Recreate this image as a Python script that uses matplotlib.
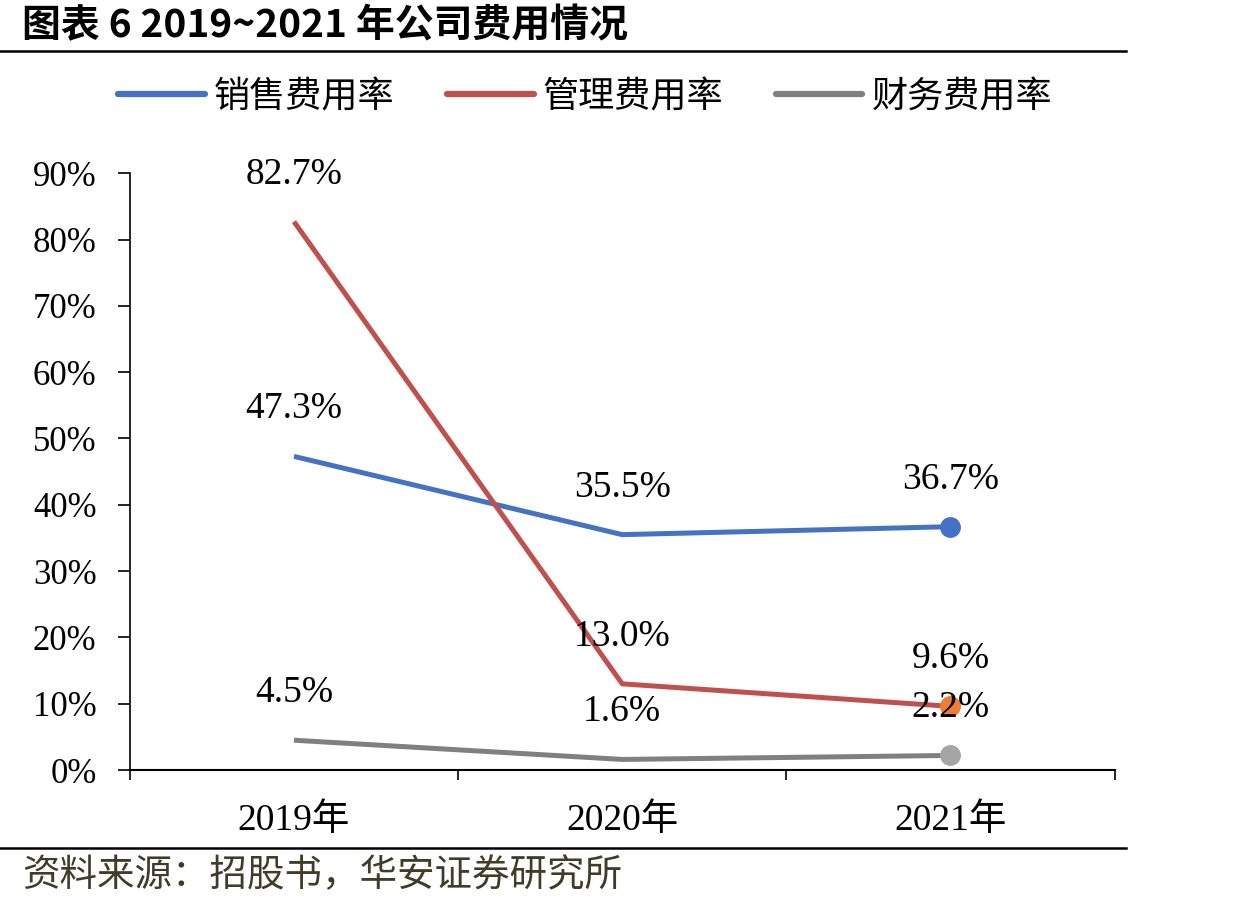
import matplotlib
matplotlib.use("Agg")
import matplotlib.pyplot as plt
from matplotlib.lines import Line2D

# Data
years = ["2019年", "2020年", "2021年"]
sales_rate = [47.3, 35.5, 36.7]
admin_rate = [82.7, 13.0, 9.6]
finance_rate = [4.5, 1.6, 2.2]
series_names = ["销售费用率", "管理费用率", "财务费用率"]
title = "图表 6 2019~2021 年公司费用情况"
source = "资料来源：招股书，华安证券研究所"

serif = ["Liberation Serif", "Noto Sans CJK SC"]
cjk = ["Noto Sans CJK SC", "DejaVu Sans"]

fig = plt.figure(figsize=(12.37, 9.07), dpi=100)
ax = fig.add_axes([0.105, 0.151, 0.796, 0.658])

x = list(range(len(years)))
series = [
    (sales_rate, "#4472C4", "#4472C4"),
    (admin_rate, "#C0504D", "#ED7D31"),
    (finance_rate, "#808080", "#A5A5A5"),
]
for (vals, color, mcolor), name in zip(series, series_names):
    ax.plot(x, [v / 100 for v in vals], color=color, lw=3.6, label=name,
            marker="o", markevery=[2], ms=14, mfc=mcolor, mec=mcolor,
            solid_capstyle="butt")
    for xi, v in zip(x, vals):
        ax.annotate(f"{v:.1f}%", (xi, v / 100), xytext=(0, 34),
                    textcoords="offset points", ha="center", va="center",
                    fontsize=27, family=serif)

ax.set_xlim(-0.5, 2.5)
ax.set_ylim(0, 0.9)
ax.set_yticks([i / 10 for i in range(10)])
ax.set_yticklabels([f"{i * 10}%" for i in range(10)], family=serif, fontsize=25)
ax.set_xticks(x)
ax.set_xticklabels(years, family=serif, fontsize=27)
ax.set_xticks([-0.5, 0.5, 1.5, 2.5], minor=True)
ax.tick_params(axis="x", which="major", length=0, pad=24)
ax.tick_params(axis="x", which="minor", length=7, width=1.2, direction="out")
ax.tick_params(axis="y", length=9, width=1.2, direction="out", pad=15)
for s in ["top", "right"]:
    ax.spines[s].set_visible(False)
ax.spines["left"].set_linewidth(1.2)
ax.spines["bottom"].set_linewidth(1.5)

# Legend
handles = [Line2D([], [], color=c, lw=4.5, solid_capstyle="round") for _, c, _ in series]
fig.legend(handles, series_names, loc="center", bbox_to_anchor=(0.473, 0.893),
           ncol=3, frameon=False, handlelength=2.4, handletextpad=0.25,
           columnspacing=1.45, prop={"family": cjk, "size": 26})

# Title, rules and source
fig.text(0.018, 0.972, title, fontsize=28, fontweight="bold", family=cjk,
         va="center", ha="left")
fig.add_artist(Line2D([0, 0.91], [0.944, 0.944], color="black", lw=1.8))
fig.add_artist(Line2D([0, 0.91], [0.065, 0.065], color="black", lw=1.8))
fig.text(0.018, 0.034, source, fontsize=27, family=cjk, color="#403C28",
         va="center", ha="left")

fig.savefig("out.png", dpi=100)
